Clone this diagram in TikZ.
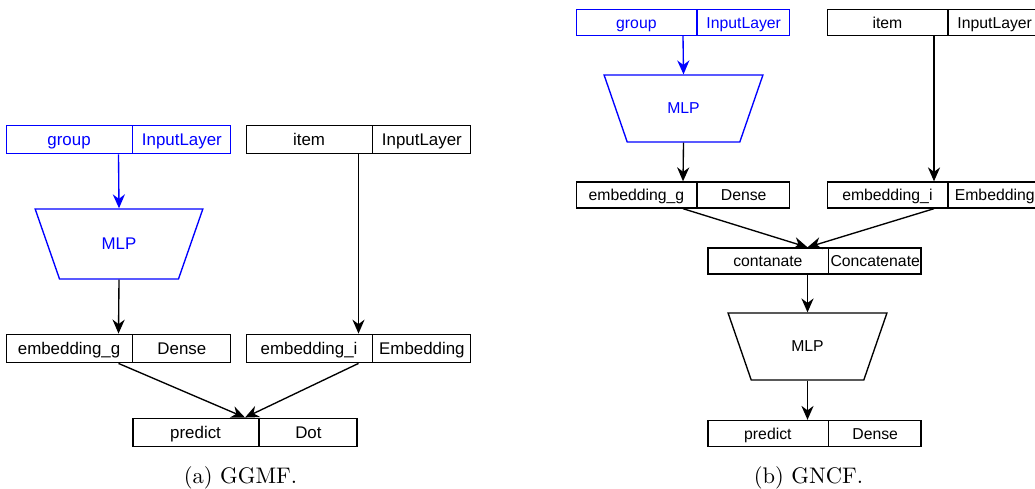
\documentclass[tikz,border=0pt]{standalone}
\usepackage{fontspec}
\usepackage{tikz}
\usetikzlibrary{shapes.multipart,shapes.geometric,arrows.meta}
\newfontfamily\arialfont{Liberation Sans}

% cell widths of the two panels
\newcommand{\nameA}[1]{\makebox[55.7pt]{\rule[-3.6pt]{0pt}{12.65pt}#1}}
\newcommand{\typeA}[1]{\makebox[43.3pt]{\rule[-3.6pt]{0pt}{12.65pt}#1}}
\newcommand{\nameB}[1]{\makebox[53.3pt]{\rule[-3.3pt]{0pt}{11.55pt}#1}}
\newcommand{\typeB}[1]{\makebox[40.8pt]{\rule[-3.3pt]{0pt}{11.55pt}#1}}

\tikzset{
  layer/.style={draw, line width=0.6pt, rectangle split, rectangle split horizontal,
    rectangle split parts=2, inner sep=0pt},
  layerA/.style={layer, font=\arialfont\fontsize{7.5}{9}\selectfont},
  layerB/.style={layer, font=\arialfont\fontsize{7}{8.5}\selectfont},
  mlp/.style={draw, line width=0.6pt, trapezium, shape border rotate=180,
    trapezium angle=58.5, trapezium stretches=true, inner sep=0pt},
  mlpA/.style={mlp, minimum width=74.6pt, minimum height=31.1pt,
    font=\arialfont\fontsize{7.5}{9}\selectfont},
  mlpB/.style={mlp, minimum width=70.6pt, minimum height=29.7pt,
    font=\arialfont\fontsize{7}{8.5}\selectfont},
  arr/.style={-{Stealth[length=6.2pt,width=5.4pt]}, line width=0.6pt},
  caption/.style={font=\fontsize{10}{12}\selectfont}
}

\begin{document}
\begin{tikzpicture}[x=0.444pt, y=-0.444pt]
    \useasboundingbox (0,0) rectangle (1035,489);

    % (a) GGMF
    \node[layerA, blue] (groupA) at (118.5,139.5) {\nameA{group}\nodepart{two}\typeA{InputLayer}};
    \node[layerA] (itemA) at (358.5,139.5) {\nameA{item}\nodepart{two}\typeA{InputLayer}};
    \node[mlpA, blue] (mlpA) at (119,244) {MLP};
    \node[layerA] (embgA) at (118.5,348.5) {\nameA{embedding\_g}\nodepart{two}\typeA{Dense}};
    \node[layerA] (embiA) at (358.5,348.5) {\nameA{embedding\_i}\nodepart{two}\typeA{Embedding}};
    \node[layerA] (predA) at (245,432.5) {\nameA{predict}\nodepart{two}\typeA{Dot}};
    \node[caption] (capA) at (240.5,478) {(a) GGMF.};

    \draw[arr, blue] (groupA.south) -- (mlpA.north);
    \draw[arr] (mlpA.south) -- (embgA.north);
    \draw[arr] (itemA.south) -- (embiA.north);
    \draw[arr] (embgA.south) -- (predA.north);
    \draw[arr] (embiA.south) -- (predA.north);

    % (b) GNCF
    \node[layerB, blue] (groupB) at (683,22.5) {\nameB{group}\nodepart{two}\typeB{InputLayer}};
    \node[layerB] (itemB) at (934,22.5) {\nameB{item}\nodepart{two}\typeB{InputLayer}};
    \node[mlpB, blue] (mlpB) at (683.5,108.5) {MLP};
    \node[layerB] (embgB) at (683,195) {\nameB{embedding\_g}\nodepart{two}\typeB{Dense}};
    \node[layerB] (embiB) at (934,195) {\nameB{embedding\_i}\nodepart{two}\typeB{Embedding}};
    \node[layerB] (concB) at (814.5,261) {\nameB{contanate}\nodepart{two}\typeB{Concatenate}};
    \node[mlpB] (mlpC) at (807.5,346.5) {MLP};
    \node[layerB] (predB) at (814.5,433.5) {\nameB{predict}\nodepart{two}\typeB{Dense}};
    \node[caption] (capB) at (808.5,478) {(b) GNCF.};

    \draw[arr, blue] (groupB.south) -- (mlpB.north);
    \draw[arr] (mlpB.south) -- (embgB.north);
    \draw[arr] (itemB.south) -- (embiB.north);
    \draw[arr] (embgB.south) -- (concB.north -| mlpC.north);
    \draw[arr] (embiB.south) -- (concB.north -| mlpC.north);
    \draw[arr] (concB.south -| mlpC.north) -- (mlpC.north);
    \draw[arr] (mlpC.south) -- (predB.north -| mlpC.south);
\end{tikzpicture}
\end{document}
